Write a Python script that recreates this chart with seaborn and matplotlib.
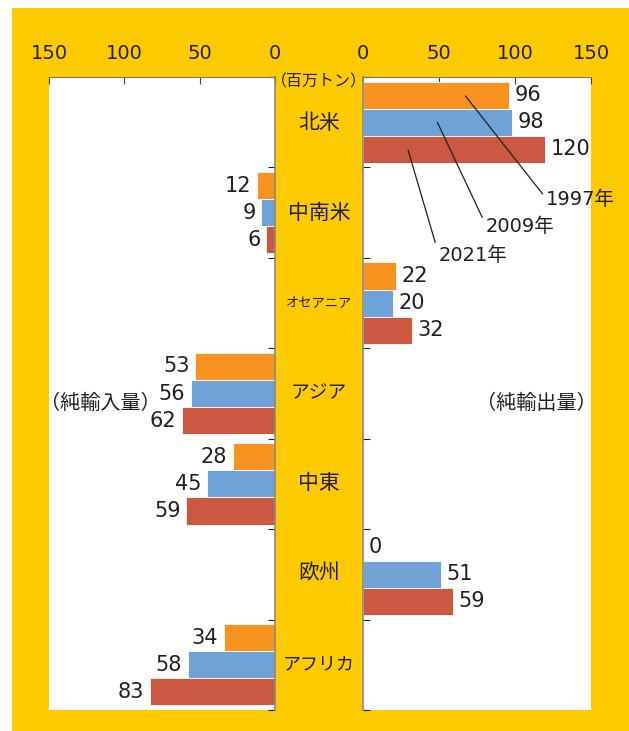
import pandas as pd
import numpy as np
import matplotlib.pyplot as plt
import seaborn as sns
from matplotlib.patches import Rectangle

# values (million tonnes)
regions = ['北米', '中南米', 'オセアニア', 'アジア', '中東', '欧州', 'アフリカ']
years = ['1997年', '2009年', '2021年']
imports_1997 = [0, 12, 0, 53, 28, 0.8, 34]
imports_2009 = [0, 9, 0, 56, 45, 0, 58]
imports_2021 = [0, 6, 0, 62, 59, 0, 83]
exports_1997 = [96, 0, 22, 0, 0, 0, 0]
exports_2009 = [98, 0, 20, 0, 0, 51, 0]
exports_2021 = [120, 0, 32, 0, 0, 59, 0]
import_labeled = ['中南米', 'アジア', '中東', 'アフリカ']
export_labeled = ['北米', 'オセアニア', '欧州']
ticks = [0, 50, 100, 150]

colors = ['#F7931E', '#6FA3D8', '#CB5840']
yellow = '#FECB00'
txt = '#231F20'

sns.set_style('white')
plt.rcParams['font.family'] = ['DejaVu Sans', 'Noto Sans CJK JP']
jp = ['Noto Sans CJK JP', 'DejaVu Sans']

rows = []
for i, r in enumerate(regions):
    for y, im, ex in zip(years,
                         [imports_1997[i], imports_2009[i], imports_2021[i]],
                         [exports_1997[i], exports_2009[i], exports_2021[i]]):
        rows.append({'region': r, 'year': y, 'imports': im, 'exports': ex})
df = pd.DataFrame(rows)

W, H = 629, 731
fig = plt.figure(figsize=(W / 100, H / 100), dpi=100)
fig.patches.append(Rectangle((12 / W, 0), 1, 1 - 8 / H, transform=fig.transFigure,
                             facecolor=yellow, edgecolor='none', zorder=-10))

ax1 = fig.add_axes([49 / W, 21 / H, 226 / W, 633 / H])
ax2 = fig.add_axes([363 / W, 21 / H, 228 / W, 633 / H])

for ax, col, labeled, lim in [(ax1, 'imports', import_labeled, (150, 0)),
                              (ax2, 'exports', export_labeled, (0, 150))]:
    sns.barplot(data=df, y='region', x=col, hue='year', order=regions, hue_order=years,
                palette=colors, orient='h', width=0.9, ax=ax, legend=False,
                edgecolor='white', linewidth=0.6, saturation=1)
    ax.set_facecolor('white')
    ax.set_xlim(*lim)
    ax.set_ylim(6.5, -0.5)
    ax.set_xticks(ticks)
    ax.set_yticks(np.arange(-0.5, 7, 1))
    ax.set_yticklabels([])
    ax.set_xlabel('')
    ax.set_ylabel('')
    ax.xaxis.tick_top()
    ax.tick_params(axis='x', direction='in', length=5, width=0.8, color='#444444',
                   labelsize=14, labelcolor=txt, pad=10)
    for s in ax.spines.values():
        s.set_visible(False)
    ax.spines['top'].set_visible(True)
    ax.spines['top'].set_color('#777777')
    ax.spines['top'].set_linewidth(0.8)
    for c, hue in zip(ax.containers, years):
        vals = df[df['year'] == hue].set_index('region').loc[regions, col]
        labs = ['%d' % v if r in labeled else '' for r, v in zip(regions, vals)]
        ax.bar_label(c, labels=labs, padding=4, fontsize=15, color=txt)

ax1.yaxis.tick_right()
ax1.spines['right'].set_visible(True)
ax1.spines['right'].set_color('#888888')
ax1.spines['right'].set_linewidth(1.2)
ax1.tick_params(axis='y', direction='in', length=5, width=0.8, color=txt, right=True, left=False)
ax2.spines['left'].set_visible(True)
ax2.spines['left'].set_color('#888888')
ax2.spines['left'].set_linewidth(1.2)
ax2.tick_params(axis='y', direction='in', length=5, width=0.8, color=txt, left=True)

# leader lines to the bars in 北米
for xy, xt, lab in [((67.4, -0.29), (120.3, 0.86), '1997年'),
                    ((48.9, 0.0), (80.6, 1.15), '2009年'),
                    ((29.7, 0.31), (49.6, 1.47), '2021年')]:
    ax2.annotate(lab, xy=xy, xytext=xt, ha='left', va='center', fontsize=14, color=txt,
                 arrowprops=dict(arrowstyle='-', color=txt, lw=0.9, shrinkA=0, shrinkB=0,
                                 relpos=(0, 0.6)))

# centre strip labels
cx = 319 / W
fig.text(cx, 1 - 82 / H, '（百万トン）', ha='center', va='center', fontsize=11.5,
         color=txt, family=jp)
centres = [123, 213, 303, 393, 483, 573, 664]
sizes = {'オセアニア': 9.5, 'アジア': 13.5, 'アフリカ': 13}
for r, py in zip(regions, centres):
    fig.text(cx, 1 - py / H, r, ha='center', va='center', fontsize=sizes.get(r, 15),
             color=txt, family=jp)

fig.text(100 / W, 1 - 403 / H, '（純輸入量）', ha='center', va='center', fontsize=14.5,
         color=txt, family=jp)
fig.text(536 / W, 1 - 403 / H, '（純輸出量）', ha='center', va='center', fontsize=14.5,
         color=txt, family=jp)

fig.savefig('out.png', dpi=100, facecolor='white')
